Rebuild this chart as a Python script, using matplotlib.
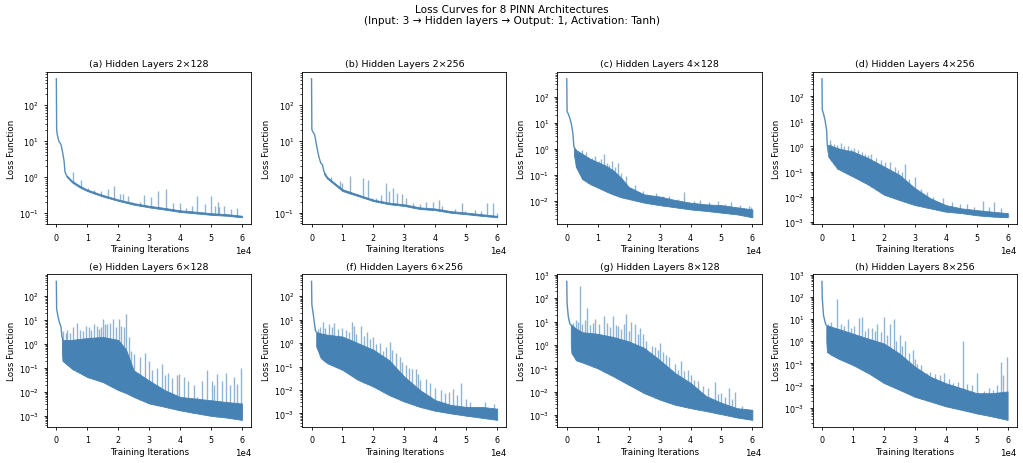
import numpy as np
import matplotlib.pyplot as plt

titles = ["(a) Hidden Layers 2×128", "(b) Hidden Layers 2×256",
          "(c) Hidden Layers 4×128", "(d) Hidden Layers 4×256",
          "(e) Hidden Layers 6×128", "(f) Hidden Layers 6×256",
          "(g) Hidden Layers 8×128", "(h) Hidden Layers 8×256"]

# x values are in units of 1e4 iterations

# initial steep descent of each curve
head_x = [
    [0, 0.01, 0.03, 0.08, 0.15, 0.2, 0.25, 0.28, 0.32],
    [0, 0.01, 0.03, 0.1, 0.2, 0.25, 0.3, 0.35, 0.4],
    [0, 0.01, 0.05, 0.1, 0.15, 0.2, 0.23],
    [0, 0.01, 0.05, 0.1, 0.15, 0.17, 0.2],
    [0, 0.01, 0.05, 0.1, 0.15, 0.18],
    [0, 0.01, 0.05, 0.1, 0.12, 0.15],
    [0, 0.01, 0.05, 0.1, 0.13],
    [0, 0.01, 0.05, 0.1, 0.12, 0.14],
]
head_y = [
    [530, 21, 15, 10, 8, 5, 2.8, 1.4, 1.15],
    [550, 21, 19, 15, 5, 3.3, 2.4, 2.2, 1.4],
    [485, 27, 22, 15, 9, 3.7, 1.2],
    [500, 29, 20, 11, 4.5, 1.2, 0.6],
    [420, 30, 15, 8, 5.3, 2.0],
    [430, 44, 19, 6, 3.7, 3.0],
    [520, 61, 16, 8, 7.3],
    [500, 84, 14.6, 7.3, 5.8, 5.2],
]

# dense part of the curve: lower edge and top of the noise
band_x = [
    [0.32, 0.5, 0.75, 1, 1.5, 2, 2.5, 3, 3.5, 4, 4.5, 5, 5.5, 6],
    [0.4, 0.5, 0.75, 1, 1.5, 2, 2.5, 3, 3.5, 4, 4.5, 5, 5.5, 6],
    [0.23, 0.3, 0.5, 0.75, 1, 1.25, 1.5, 1.75, 2, 2.5, 3, 3.5, 4, 4.5, 5, 5.5, 6],
    [0.2, 0.5, 0.75, 1, 1.5, 2, 2.5, 3, 3.5, 4, 4.5, 5, 5.5, 6],
    [0.18, 0.2, 0.5, 1, 1.5, 2, 2.25, 2.5, 3, 3.5, 4, 4.5, 5, 5.5, 6],
    [0.15, 0.3, 0.5, 1, 1.5, 2, 2.5, 3, 3.5, 4, 4.5, 5, 5.5, 6],
    [0.13, 0.15, 0.3, 0.5, 1, 1.5, 2, 2.5, 3, 3.5, 4, 4.5, 5, 5.5, 6],
    [0.14, 0.16, 0.3, 0.5, 1, 1.5, 2, 2.5, 3, 3.5, 4, 4.5, 5, 5.5, 6],
]
band_lo = [
    [1.05, 0.72, 0.52, 0.41, 0.29, 0.22, 0.172, 0.145, 0.126, 0.108, 0.099, 0.09, 0.085, 0.077],
    [1.2, 0.9, 0.6, 0.4, 0.29, 0.21, 0.172, 0.153, 0.126, 0.117, 0.099, 0.09, 0.081, 0.074],
    [0.6, 0.2, 0.07, 0.045, 0.033, 0.024, 0.018, 0.014, 0.012, 0.0087, 0.007, 0.0058, 0.0048, 0.0042, 0.0036, 0.0031, 0.0024],
    [0.4, 0.13, 0.09, 0.063, 0.03, 0.012, 0.0073, 0.0046, 0.0034, 0.0025, 0.0022, 0.0018, 0.0016, 0.0015],
    [0.5, 0.2, 0.094, 0.042, 0.026, 0.012, 0.009, 0.0062, 0.0033, 0.0024, 0.0017, 0.0013, 0.001, 0.00085, 0.00068],
    [0.72, 0.23, 0.14, 0.072, 0.027, 0.014, 0.0061, 0.0032, 0.0019, 0.0013, 0.001, 0.0008, 0.00065, 0.00053],
    [1.0, 0.46, 0.22, 0.18, 0.1, 0.046, 0.02, 0.0088, 0.0047, 0.0028, 0.002, 0.0015, 0.0011, 0.0008, 0.00063],
    [1.0, 0.33, 0.24, 0.17, 0.084, 0.036, 0.013, 0.0064, 0.0031, 0.0019, 0.00115, 0.0008, 0.00055, 0.0004, 0.00028],
]
band_hi = [
    [1.15, 0.8, 0.58, 0.45, 0.32, 0.24, 0.19, 0.16, 0.14, 0.12, 0.11, 0.10, 0.094, 0.085],
    [1.4, 1.0, 0.67, 0.45, 0.32, 0.23, 0.19, 0.17, 0.14, 0.13, 0.11, 0.1, 0.09, 0.081],
    [1.2, 0.9, 0.65, 0.42, 0.31, 0.23, 0.15, 0.08, 0.035, 0.018, 0.015, 0.011, 0.0087, 0.0075, 0.007, 0.0058, 0.0048],
    [1.17, 0.86, 0.72, 0.63, 0.34, 0.16, 0.074, 0.022, 0.0086, 0.0046, 0.0034, 0.0029, 0.0025, 0.0022],
    [2.0, 1.5, 1.5, 1.8, 2.0, 1.5, 0.6, 0.08, 0.03, 0.012, 0.0062, 0.0053, 0.0045, 0.0038, 0.0033],
    [3.0, 2.6, 2.3, 1.9, 1.0, 0.52, 0.19, 0.037, 0.01, 0.0037, 0.0023, 0.0019, 0.0019, 0.0016],
    [7.3, 7.3, 5.0, 3.5, 3.0, 2.2, 1.43, 0.75, 0.23, 0.063, 0.024, 0.0066, 0.0034, 0.002, 0.0017],
    [5.2, 5.2, 4.5, 3.7, 2.2, 1.3, 0.79, 0.28, 0.071, 0.025, 0.0127, 0.0076, 0.0045, 0.0045, 0.0054],
]

# isolated spikes above the dense part
spike_x = [
    [0.53, 0.81, 1.02, 1.23, 1.45, 1.66, 1.87, 2.05, 2.16, 2.32, 2.43, 2.71, 2.84, 3.06, 3.29,
     3.55, 3.77, 4.0, 4.19, 4.38, 4.56, 4.82, 5.01, 5.14, 5.21, 5.27, 5.43, 5.63, 5.84],
    [0.64, 0.91, 0.98, 1.25, 1.51, 1.65, 1.81, 1.95, 2.09, 2.25, 2.41, 2.51, 2.64, 2.76, 2.91, 3.06,
     3.28, 3.52, 3.71, 3.94, 4.12, 4.22, 4.41, 4.65, 4.86, 4.96, 5.28, 5.47, 5.68, 5.86, 5.98],
    [0.3, 0.35, 0.42, 0.5, 0.56, 0.62, 0.7, 0.8, 0.9, 1.05, 1.12, 1.2, 1.3, 1.38, 1.45, 1.55, 1.65,
     1.75, 1.9, 2.05, 2.2, 2.3, 2.45, 2.6, 2.9, 3.1, 3.3, 3.6, 3.8, 4.1, 4.3, 4.6, 4.9, 5.1, 5.3,
     5.6, 5.9, 5.95],
    [0.25, 0.3, 0.4, 0.5, 0.6, 0.7, 0.85, 0.95, 1.05, 1.15, 1.3, 1.4, 1.5, 1.6, 1.75, 1.9, 2.05,
     2.2, 2.35, 2.45, 2.6, 2.67, 2.8, 3.0, 3.2, 3.4, 3.6, 3.9, 4.2, 4.45, 4.7, 4.9, 5.2, 5.4,
     5.55, 5.8, 6.0],
    [0.22, 0.3, 0.35, 0.45, 0.55, 0.67, 0.75, 0.85, 0.95, 1.06, 1.12, 1.22, 1.3, 1.38, 1.45, 1.5,
     1.58, 1.65, 1.75, 1.84, 1.93, 2.02, 2.1, 2.2, 2.26, 2.34, 2.4, 2.5, 2.7, 2.87, 3.0, 3.1,
     3.25, 3.4, 3.5, 3.6, 3.75, 3.9, 3.98, 4.14, 4.25, 4.4, 4.46, 4.56, 4.7, 4.88, 5.04, 5.1,
     5.2, 5.35, 5.47, 5.6, 5.73, 5.84, 5.98],
    [0.2, 0.28, 0.37, 0.45, 0.55, 0.65, 0.74, 0.85, 0.98, 1.1, 1.2, 1.32, 1.38, 1.45, 1.61, 1.7,
     1.79, 1.9, 2.0, 2.09, 2.2, 2.3, 2.4, 2.52, 2.6, 2.73, 2.85, 2.94, 3.05, 3.15, 3.25, 3.37,
     3.45, 3.52, 3.7, 3.84, 4.0, 4.2, 4.32, 4.45, 4.56, 4.7, 4.83, 5.0, 5.12, 5.6, 5.9],
    [0.2, 0.29, 0.35, 0.43, 0.5, 0.58, 0.65, 0.75, 0.85, 0.91, 1.05, 1.21, 1.3, 1.4, 1.51, 1.6,
     1.66, 1.75, 1.85, 1.92, 2.0, 2.08, 2.2, 2.3, 2.38, 2.48, 2.55, 2.64, 2.75, 2.85, 2.95, 3.01,
     3.1, 3.22, 3.3, 3.41, 3.5, 3.6, 3.68, 3.8, 3.91, 4.0, 4.12, 4.25, 4.39, 4.55, 4.78, 4.9,
     4.97, 5.1, 5.24, 5.35, 5.45, 5.66, 5.79],
    [0.2, 0.3, 0.47, 0.6, 0.7, 0.85, 0.95, 1.05, 1.19, 1.29, 1.4, 1.5, 1.61, 1.7, 1.77, 1.9, 2.0,
     2.1, 2.19, 2.33, 2.4, 2.51, 2.6, 2.67, 2.8, 2.93, 3.0, 3.06, 3.2, 3.41, 3.5, 3.65, 3.8, 3.96,
     4.1, 4.25, 4.4, 4.57, 4.68, 4.85, 5.02, 5.23, 5.4, 5.52, 5.65, 5.79, 5.85, 5.97],
]
spike_y = [
    [1.35, 0.85, 0.5, 0.45, 0.42, 0.48, 0.55, 0.35, 0.35, 0.3, 0.2, 0.2, 0.32, 0.28, 0.42,
     0.47, 0.19, 0.19, 0.14, 0.16, 0.3, 0.18, 0.3, 0.16, 0.2, 0.15, 0.16, 0.13, 0.14],
    [0.96, 0.77, 0.67, 1.07, 0.33, 0.92, 0.79, 0.25, 0.25, 0.32, 0.67, 0.41, 0.5, 0.35, 0.33, 0.25,
     0.18, 0.17, 0.2, 0.2, 0.22, 0.15, 0.11, 0.13, 0.18, 0.11, 0.12, 0.11, 0.18, 0.19, 0.1],
    [1.0, 0.8, 0.7, 0.9, 0.6, 0.75, 0.5, 0.45, 0.55, 0.35, 0.42, 0.65, 0.3, 0.25, 0.35, 0.2, 0.3,
     0.12, 0.09, 0.03, 0.04, 0.02, 0.024, 0.018, 0.02, 0.015, 0.016, 0.012, 0.022, 0.01, 0.011,
     0.009, 0.01, 0.008, 0.009, 0.007, 0.0065, 0.006],
    [1.8, 1.3, 1.2, 1.1, 1.4, 1.0, 1.0, 0.8, 0.9, 0.7, 0.6, 0.5, 0.45, 0.5, 0.35, 0.3, 0.25,
     0.25, 0.15, 0.12, 0.1, 0.2, 0.05, 0.06, 0.02, 0.015, 0.01, 0.009, 0.006, 0.005, 0.005, 0.004,
     0.0067, 0.004, 0.006, 0.0035, 0.0022],
    [3.5, 3.0, 4.0, 2.8, 5.0, 7.7, 4.0, 3.5, 5.5, 5.0, 4.0, 6.8, 6.0, 4.5, 5.0, 11.7,
     7.0, 6.8, 8.0, 11.7, 5.0, 11.7, 6.0, 5.0, 19, 2.0, 0.5, 0.4, 0.3, 0.43, 0.2, 0.08,
     0.1, 0.15, 0.05, 0.06, 0.04, 0.05, 0.058, 0.042, 0.03, 0.0045, 0.019, 0.006, 0.03, 0.085, 0.03, 0.02,
     0.058, 0.03, 0.062, 0.02, 0.042, 0.022, 0.1],
    [4.0, 5.0, 7.7, 4.5, 6.7, 5.0, 7.2, 4.0, 4.4, 3.5, 3.0, 7.7, 5.2, 2.5, 5.2, 2.0,
     2.9, 1.5, 1.9, 0.94, 1.0, 0.44, 0.7, 1.07, 0.5, 0.37, 0.25, 0.15, 0.12, 0.085, 0.08, 0.077,
     0.05, 0.027, 0.03, 0.019, 0.012, 0.01, 0.0072, 0.008, 0.011, 0.006, 0.02, 0.004, 0.0032, 0.003, 0.0025],
    [9, 12, 10, 330, 8, 12, 38, 7, 9, 12.6, 8, 17, 9, 6, 17, 7,
     6.2, 5, 8, 21.7, 4, 10, 8, 3, 5.3, 3, 1.5, 0.43, 0.88, 0.8, 0.6, 1.2,
     0.5, 0.39, 0.3, 0.088, 0.15, 0.088, 0.2, 0.08, 0.088, 0.05, 0.033, 0.03, 0.017, 0.015, 0.025, 0.008,
     0.0088, 0.006, 0.0143, 0.005, 0.01, 0.0024, 0.0018],
    [6, 7, 84, 6, 5, 10.3, 4, 5, 11.5, 12.4, 3, 4, 4.1, 3, 6.2, 2.5, 12.4,
     2, 5.8, 10.3, 1.0, 1.86, 0.6, 1.03, 0.3, 0.4, 0.15, 0.093, 0.08, 0.036, 0.04, 0.033, 0.03, 0.038,
     0.02, 0.0127, 0.015, 1.03, 0.0115, 0.01, 0.038, 0.0054, 0.008, 0.006, 0.01, 0.12, 0.03, 0.2],
]

color = "#4682b4"
scale = 1e4

fig, axes = plt.subplots(2, 4, figsize=(10.23, 4.64), dpi=100)
axes = axes.flatten()

for i, ax in enumerate(axes):
    bx = np.array(band_x[i]) * scale
    lo = np.array(band_lo[i])
    hi = np.array(band_hi[i])
    sx = np.array(spike_x[i]) * scale
    sy = np.array(spike_y[i])
    base = 10 ** np.interp(sx, bx, np.log10(lo))

    ax.plot(np.array(head_x[i]) * scale, head_y[i], color=color, lw=1.0, alpha=0.9)
    ax.fill_between(bx, lo, hi, color=color, lw=0.6, edgecolor=color)
    ax.vlines(sx, base, sy, color=color, lw=1.0, alpha=0.6)

    ax.set_yscale("log")
    ax.set_xlim(-0.3 * scale, 6.3 * scale)
    ax.ticklabel_format(axis="x", style="sci", scilimits=(4, 4))
    ax.xaxis.get_offset_text().set_fontsize(6.2)
    ax.tick_params(labelsize=5.8, length=2.5, width=0.6)
    ax.tick_params(which="minor", length=1.5, width=0.5)
    ax.set_title(titles[i], fontsize=6.8, pad=4)
    ax.set_xlabel("Training Iterations", fontsize=6.3, labelpad=2)
    ax.set_ylabel("Loss Function", fontsize=6.3, labelpad=2)
    for s in ax.spines.values():
        s.set_linewidth(0.6)

fig.suptitle("Loss Curves for 8 PINN Architectures\n"
             "(Input: 3 \u2192 Hidden layers \u2192 Output: 1, Activation: Tanh)",
             fontsize=7.6, y=0.99)
plt.subplots_adjust(left=0.046, right=0.994, top=0.843, bottom=0.078, wspace=0.25, hspace=0.33)
plt.savefig("out.png", dpi=100)
